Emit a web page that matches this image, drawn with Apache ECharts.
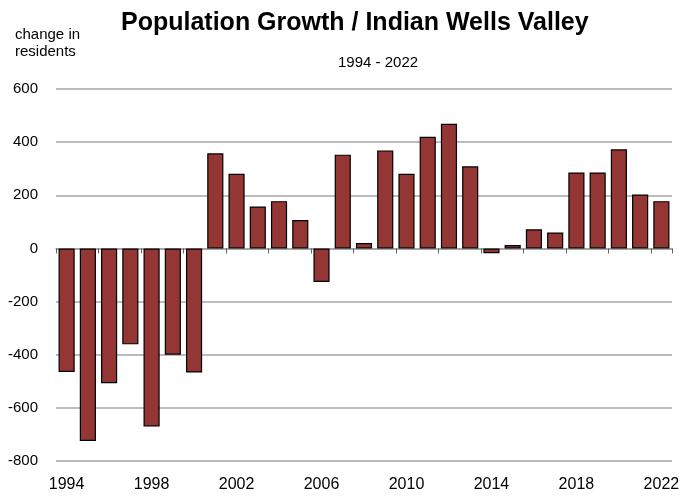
<!DOCTYPE html>
<html>
<head>
<meta charset="utf-8">
<script src="https://cdn.jsdelivr.net/npm/echarts@6/dist/echarts.min.js"></script>
<style>
  html, body { margin: 0; padding: 0; background: #fff; }
  #chart { width: 692px; height: 497px; }
</style>
</head>
<body>
<div id="chart"></div>
<script>
const years = ['1994', '1995', '1996', '1997', '1998', '1999', '2000', '2001', '2002', '2003',
  '2004', '2005', '2006', '2007', '2008', '2009', '2010', '2011', '2012', '2013',
  '2014', '2015', '2016', '2017', '2018', '2019', '2020', '2021', '2022']
const growth = [-465, -725, -507, -361, -670, -400, -467, 358, 281, 158,
  178, 107, -126, 353, 20, 369, 281, 420, 469, 309,
  -18, 13, 72, 60, 286, 286, 373, 203, 178]
const yTicks = [-800, -600, -400, -200, 0, 200, 400, 600]

const font = "'Liberation Sans Narrow', 'Arial Narrow', 'Liberation Sans', sans-serif"

const chart = echarts.init(document.getElementById('chart'))

chart.setOption({
  animation: false,
  textStyle: { fontFamily: font },
  title: [{
    text: 'Population Growth / Indian Wells Valley',
    left: 116,
    top: 6,
    textStyle: { fontFamily: font, fontSize: 25, fontWeight: 'bold', color: '#000' }
  }, {
    text: '1994 - 2022',
    left: 333,
    top: 50,
    textStyle: { fontFamily: font, fontSize: 15, fontWeight: 'normal', color: '#000' }
  }, {
    text: 'change in\nresidents',
    left: 10,
    top: 21,
    textStyle: { fontFamily: font, fontSize: 15, fontWeight: 'normal', color: '#000', lineHeight: 17 }
  }],
  grid: {
    left: 56,
    right: 20,
    top: 89,
    bottom: 36,
    containLabel: false
  },
  xAxis: [{
    // line and ticks sit on the zero value
    type: 'category',
    data: years,
    boundaryGap: true,
    axisLine: { onZero: true, lineStyle: { color: '#a0a0a0', width: 1.5 } },
    axisTick: { show: true, interval: 1, length: 5, lineStyle: { color: '#606060' } },
    axisLabel: { show: false }
  }, {
    // year labels along the bottom
    type: 'category',
    data: years,
    position: 'bottom',
    boundaryGap: true,
    axisLine: { show: false, onZero: false },
    axisTick: { show: false },
    axisLabel: { interval: 3, margin: 16, fontSize: 16, color: '#000', fontFamily: font }
  }],
  yAxis: {
    type: 'value',
    min: yTicks[0],
    max: yTicks[yTicks.length - 1],
    interval: 200,
    axisLine: { show: false },
    axisTick: { show: false },
    axisLabel: { margin: 18, fontSize: 15, color: '#000', fontFamily: font },
    splitLine: { lineStyle: { color: '#a6a6a6', width: 1.5 } }
  },
  series: [{
    type: 'bar',
    data: growth,
    xAxisIndex: 0,
    barCategoryGap: '24%',
    itemStyle: { color: '#943634', borderColor: '#000', borderWidth: 1.2 }
  }]
})
</script>
</body>
</html>
